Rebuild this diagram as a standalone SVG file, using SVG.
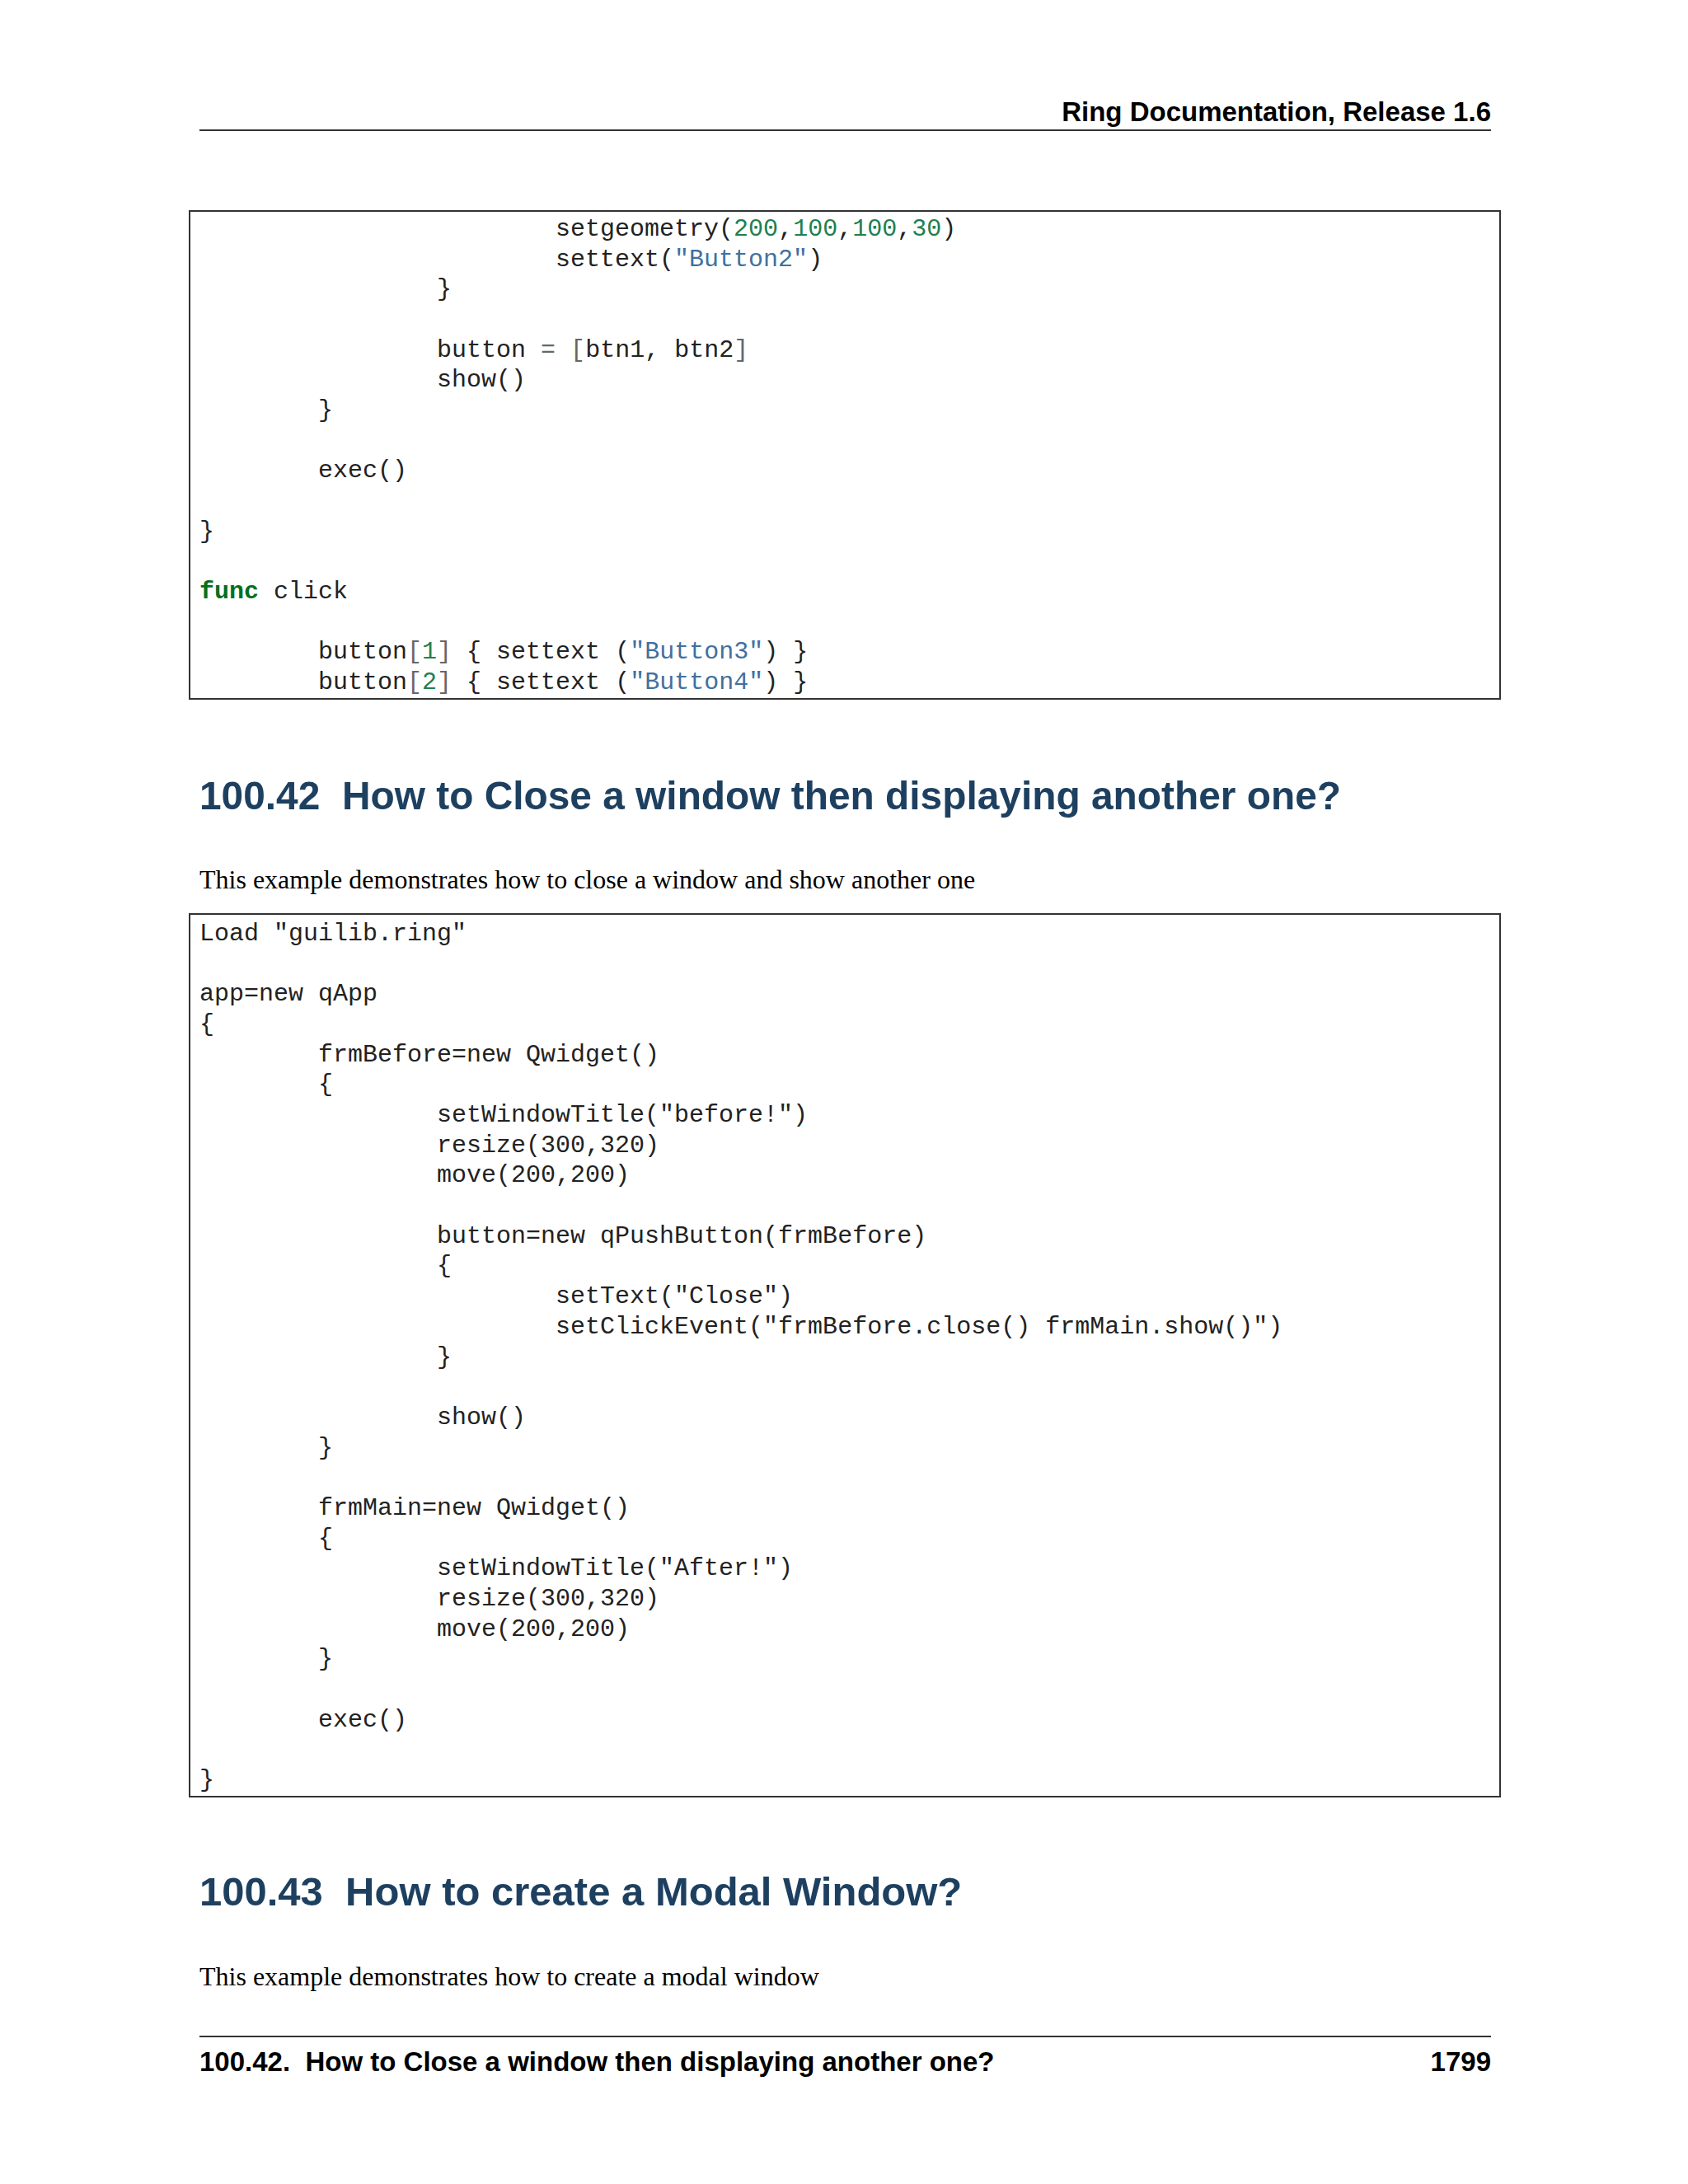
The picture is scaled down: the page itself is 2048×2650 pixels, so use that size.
<svg xmlns="http://www.w3.org/2000/svg" width="2048" height="2650" viewBox="0 0 2048 2650">
<style>
.c{font-family:"Liberation Mono","DejaVu Sans Mono",monospace;font-size:30px;fill:#222;white-space:pre}
.n{fill:#208050}.s{fill:#4070a0}.o{fill:#666}.k{fill:#007020;font-weight:bold}
.h{font-family:"Liberation Sans",Arial,sans-serif;font-weight:bold;fill:#1e4060;font-size:49px}
.p{font-family:"Liberation Serif","Times New Roman",serif;font-size:32px;fill:#000}
.hd{font-family:"Liberation Sans",Arial,sans-serif;font-weight:bold;font-size:33px;fill:#000}
.box{fill:#fff;stroke:#333;stroke-width:2}
</style>
<rect width="2048" height="2650" fill="#fff"/>
<g id="header">
<text class="hd" x="1809" y="147" text-anchor="end">Ring Documentation, Release 1.6</text>
<line x1="242" y1="158" x2="1809" y2="158" stroke="#333" stroke-width="2"/>
</g>
<g id="code1">
<rect class="box" x="230" y="256" width="1590" height="592"/>
<text class="c" xml:space="preserve"><tspan x="242" y="286">                        setgeometry(<tspan class="n">200</tspan>,<tspan class="n">100</tspan>,<tspan class="n">100</tspan>,<tspan class="n">30</tspan>)</tspan><tspan x="242" y="323">                        settext(<tspan class="s">"Button2"</tspan>)</tspan><tspan x="242" y="359">                }</tspan><tspan x="242" y="433">                button <tspan class="o">=</tspan> <tspan class="o">[</tspan>btn1, btn2<tspan class="o">]</tspan></tspan><tspan x="242" y="469">                show()</tspan><tspan x="242" y="506">        }</tspan><tspan x="242" y="579">        exec()</tspan><tspan x="242" y="653">}</tspan><tspan x="242" y="726"><tspan class="k">func</tspan> click</tspan><tspan x="242" y="799">        button<tspan class="o">[</tspan><tspan class="n">1</tspan><tspan class="o">]</tspan> { settext (<tspan class="s">"Button3"</tspan>) }</tspan><tspan x="242" y="836">        button<tspan class="o">[</tspan><tspan class="n">2</tspan><tspan class="o">]</tspan> { settext (<tspan class="s">"Button4"</tspan>) }</tspan></text>
</g>
<g id="section4242">
<text class="h" x="242" y="982" textLength="1385" lengthAdjust="spacingAndGlyphs" xml:space="preserve">100.42  How to Close a window then displaying another one?</text>
<text class="p" x="242" y="1078">This example demonstrates how to close a window and show another one</text>
</g>
<g id="code2">
<rect class="box" x="230" y="1109" width="1590" height="1071"/>
<text class="c" xml:space="preserve"><tspan x="242" y="1141">Load "guilib.ring"</tspan><tspan x="242" y="1214">app=new qApp</tspan><tspan x="242" y="1251">{</tspan><tspan x="242" y="1288">        frmBefore=new Qwidget()</tspan><tspan x="242" y="1324">        {</tspan><tspan x="242" y="1361">                setWindowTitle("before!")</tspan><tspan x="242" y="1398">                resize(300,320)</tspan><tspan x="242" y="1434">                move(200,200)</tspan><tspan x="242" y="1508">                button=new qPushButton(frmBefore)</tspan><tspan x="242" y="1544">                {</tspan><tspan x="242" y="1581">                        setText("Close")</tspan><tspan x="242" y="1618">                        setClickEvent("frmBefore.close() frmMain.show()")</tspan><tspan x="242" y="1655">                }</tspan><tspan x="242" y="1728">                show()</tspan><tspan x="242" y="1765">        }</tspan><tspan x="242" y="1838">        frmMain=new Qwidget()</tspan><tspan x="242" y="1875">        {</tspan><tspan x="242" y="1911">                setWindowTitle("After!")</tspan><tspan x="242" y="1948">                resize(300,320)</tspan><tspan x="242" y="1985">                move(200,200)</tspan><tspan x="242" y="2021">        }</tspan><tspan x="242" y="2095">        exec()</tspan><tspan x="242" y="2168">}</tspan></text>
</g>
<g id="section4243">
<text class="h" x="242" y="2312" xml:space="preserve">100.43  How to create a Modal Window?</text>
<text class="p" x="242" y="2409">This example demonstrates how to create a modal window</text>
</g>
<g id="footer">
<line x1="242" y1="2471" x2="1809" y2="2471" stroke="#333" stroke-width="2"/>
<text class="hd" x="242" y="2513" xml:space="preserve">100.42.  How to Close a window then displaying another one?</text>
<text class="hd" x="1809" y="2513" text-anchor="end">1799</text>
</g>
</svg>
